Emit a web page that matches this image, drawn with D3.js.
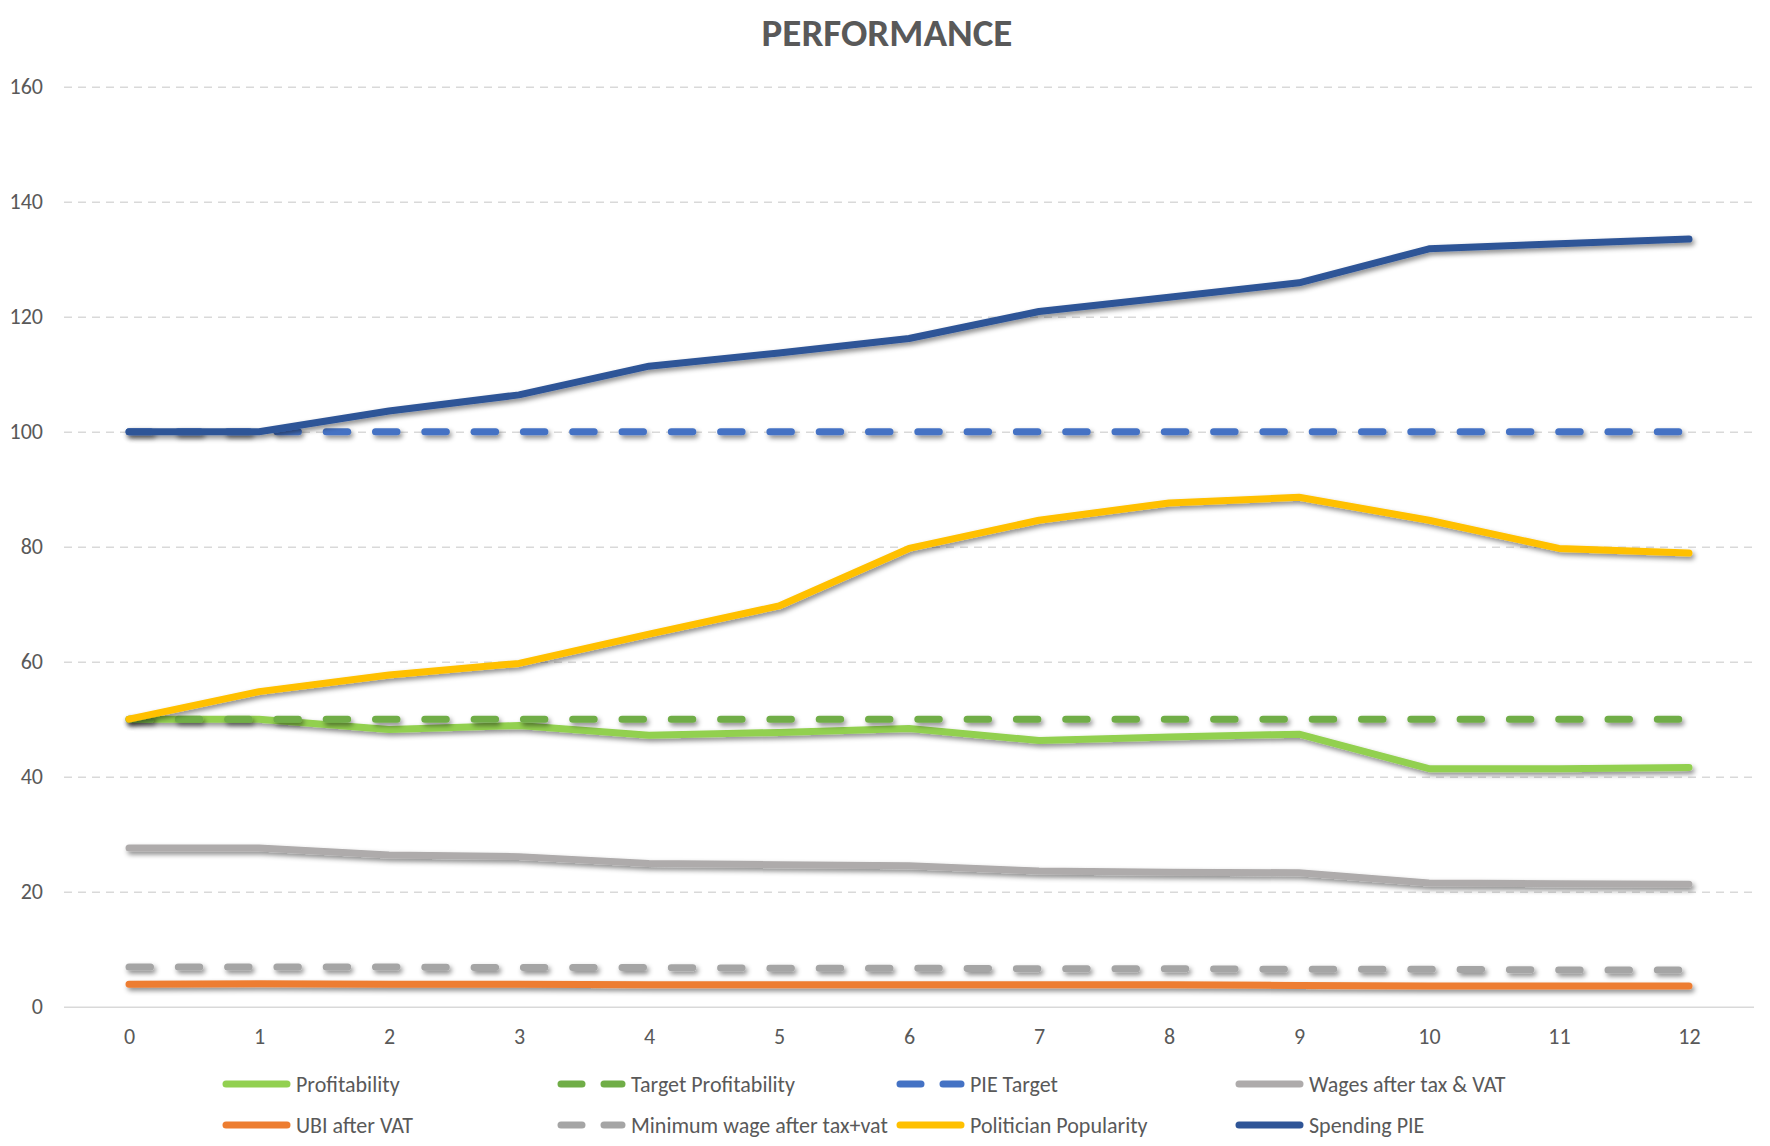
<!DOCTYPE html>
<html>
<head>
<meta charset="utf-8">
<script src="https://cdn.jsdelivr.net/npm/d3@7"></script>
<style>
  body { margin: 0; background: #fff; }
  text { font-family: Carlito, Calibri, Lato, "Open Sans", sans-serif; fill: #595959; }
</style>
</head>
<body>
<script>
// Chart data
const periods = [0, 1, 2, 3, 4, 5, 6, 7, 8, 9, 10, 11, 12];
const profitability = [50, 50, 48.2, 48.9, 47.2, 47.7, 48.4, 46.3, 46.9, 47.4, 41.4, 41.4, 41.6];
const targetProfitability = [50, 50, 50, 50, 50, 50, 50, 50, 50, 50, 50, 50, 50];
const pieTarget = [100, 100, 100, 100, 100, 100, 100, 100, 100, 100, 100, 100, 100];
const wages = [27.6, 27.6, 26.4, 26.1, 24.9, 24.7, 24.5, 23.6, 23.4, 23.3, 21.5, 21.4, 21.3];
const ubi = [3.9, 4.0, 3.9, 3.9, 3.8, 3.8, 3.8, 3.8, 3.8, 3.7, 3.6, 3.6, 3.6];
const minWage = [6.9, 6.9, 6.9, 6.8, 6.8, 6.7, 6.7, 6.6, 6.6, 6.5, 6.5, 6.4, 6.4];
const popularity = [50, 54.8, 57.7, 59.7, 64.8, 69.7, 79.7, 84.6, 87.6, 88.6, 84.6, 79.7, 78.9];
const spendingPie = [100, 100, 103.6, 106.4, 111.4, 113.7, 116.2, 120.9, 123.4, 125.9, 131.8, 132.7, 133.5];
const yTicks = [0, 20, 40, 60, 80, 100, 120, 140, 160];

const series = [
  { name: 'Profitability', values: profitability, color: '#92D050', dashed: false },
  { name: 'Target Profitability', values: targetProfitability, color: '#70AD47', dashed: true },
  { name: 'PIE Target', values: pieTarget, color: '#4472C4', dashed: true },
  { name: 'Wages after tax & VAT', values: wages, color: '#AEABAB', dashed: false },
  { name: 'UBI after VAT', values: ubi, color: '#ED7D31', dashed: false },
  { name: 'Minimum wage after tax+vat', values: minWage, color: '#A5A5A5', dashed: true },
  { name: 'Politician Popularity', values: popularity, color: '#FFC000', dashed: false },
  { name: 'Spending PIE', values: spendingPie, color: '#2F5597', dashed: false }
];

const width = 1770, height = 1146;
const plotLeft = 64, plotRight = 1754, plotTop = 86.7, plotBottom = 1006.7;

const svg = d3.select('body').append('svg')
  .attr('width', width)
  .attr('height', height);

// drop shadow like the Excel line effect (user space so flat lines still render)
const filter = svg.append('defs').append('filter')
  .attr('id', 'shadow')
  .attr('filterUnits', 'userSpaceOnUse')
  .attr('x', 0).attr('y', 0)
  .attr('width', width).attr('height', height);
filter.append('feDropShadow')
  .attr('dx', 2).attr('dy', 3)
  .attr('stdDeviation', 2.5)
  .attr('flood-color', '#000')
  .attr('flood-opacity', 0.45);

const x = d3.scalePoint()
  .domain(periods)
  .range([plotLeft, plotRight])
  .padding(0.5);

const y = d3.scaleLinear()
  .domain([0, 160])
  .range([plotBottom, plotTop]);

// Title
svg.append('text')
  .attr('x', 887)
  .attr('y', 46)
  .attr('text-anchor', 'middle')
  .style('font-size', '39px')
  .style('font-weight', 'bold')
  .text('PERFORMANCE');

// Y axis + gridlines
const yAxis = svg.append('g')
  .attr('transform', `translate(${plotLeft},0)`)
  .call(d3.axisLeft(y).tickValues(yTicks).tickSize(-(plotRight - plotLeft)).tickPadding(21));
yAxis.select('.domain').remove();
yAxis.selectAll('.tick line')
  .attr('stroke', '#D9D9D9')
  .attr('stroke-width', 1.5)
  .attr('stroke-dasharray', d => d === 0 ? null : '8,6');
yAxis.selectAll('.tick text')
  .style('font-size', '22px')
  .attr('fill', '#595959');

// X axis
const xAxis = svg.append('g')
  .attr('transform', `translate(0,${plotBottom})`)
  .call(d3.axisBottom(x).tickSize(0).tickPadding(22));
xAxis.select('.domain').remove();
xAxis.selectAll('.tick text')
  .style('font-size', '22px')
  .attr('fill', '#595959');

// Lines
const line = d3.line()
  .x((d, i) => x(periods[i]))
  .y(d => y(d));

svg.append('g')
  .selectAll('path')
  .data(series)
  .enter().append('path')
  .attr('d', d => line(d.values))
  .attr('fill', 'none')
  .attr('stroke', d => d.color)
  .attr('stroke-width', 7)
  .attr('stroke-linecap', 'round')
  .attr('stroke-linejoin', 'round')
  .attr('stroke-dasharray', d => d.dashed ? '21.5,27.8' : null)
  .attr('filter', 'url(#shadow)');

// Legend
const legendCols = [223, 558, 897, 1236];
const legendRows = [1084, 1125];

const items = svg.append('g')
  .selectAll('g')
  .data(series)
  .enter().append('g')
  .attr('transform', (d, i) => `translate(${legendCols[i % 4]},${legendRows[Math.floor(i / 4)]})`);

items.append('line')
  .attr('x1', 3)
  .attr('x2', 64)
  .attr('stroke', d => d.color)
  .attr('stroke-width', 7)
  .attr('stroke-linecap', 'round')
  .attr('stroke-dasharray', d => d.dashed ? '21,22' : null);

items.append('text')
  .attr('x', 73)
  .attr('dy', '0.35em')
  .style('font-size', '22px')
  .text(d => d.name);
</script>
</body>
</html>
